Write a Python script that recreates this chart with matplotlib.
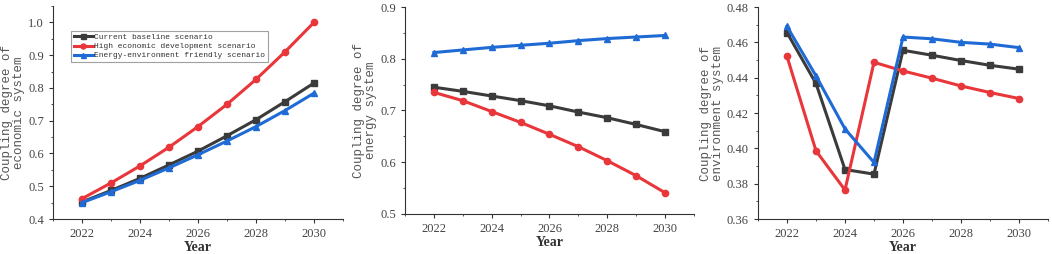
import numpy as np
import matplotlib
matplotlib.use("Agg")
import matplotlib.pyplot as plt
from matplotlib.ticker import MultipleLocator

years = [2022, 2023, 2024, 2025, 2026, 2027, 2028, 2029, 2030]
labels = ["Current baseline scenario",
          "High economic development scenario",
          "Energy-environment friendly scenario"]

# economic system
econ_base = [0.452, 0.487, 0.524, 0.565, 0.607, 0.654, 0.703, 0.758, 0.815]
econ_high = [0.462, 0.510, 0.562, 0.619, 0.682, 0.750, 0.826, 0.910, 1.000]
econ_green = [0.450, 0.483, 0.518, 0.556, 0.596, 0.638, 0.682, 0.731, 0.784]

# energy system
energy_base = [0.745, 0.737, 0.728, 0.719, 0.709, 0.697, 0.686, 0.673, 0.659]
energy_high = [0.735, 0.719, 0.698, 0.677, 0.654, 0.630, 0.603, 0.574, 0.541]
energy_green = [0.812, 0.817, 0.822, 0.826, 0.830, 0.835, 0.839, 0.842, 0.845]

# environment system
env_base = [0.4655, 0.4367, 0.3880, 0.3854, 0.4555, 0.4527, 0.4497, 0.4470, 0.4448]
env_high = [0.4520, 0.3986, 0.3764, 0.4487, 0.4438, 0.4397, 0.4353, 0.4316, 0.4282]
env_green = [0.4690, 0.4410, 0.4110, 0.3920, 0.4630, 0.4620, 0.4600, 0.4590, 0.4570]

colors = ["#3b3b3b", "#e8363b", "#1f6bd6"]
markers = ["s", "o", "^"]

panels = [
    dict(data=[econ_base, econ_high, econ_green], ylim=(0.4, 1.05), step=0.1, minor=0.05,
         fmt="%.1f", ylabel="Coupling degree of\neconomic system",
         rect=[53 / 1052, 1 - 219 / 254, 290 / 1052, 213 / 254]),
    dict(data=[energy_base, energy_high, energy_green], ylim=(0.5, 0.9), step=0.1, minor=0.05,
         fmt="%.1f", ylabel="Coupling degree of\nenergy system",
         rect=[405 / 1052, 1 - 214 / 254, 289 / 1052, 207 / 254]),
    dict(data=[env_base, env_high, env_green], ylim=(0.36, 0.48), step=0.02, minor=0.01,
         fmt="%.2f", ylabel="Coupling degree of\nenvironment system",
         rect=[758 / 1052, 1 - 219 / 254, 290 / 1052, 212 / 254]),
]

fig = plt.figure(figsize=(10.52, 2.54), dpi=100)
tick_color = "#444444"

for i, p in enumerate(panels):
    ax = fig.add_axes(p["rect"])
    for series, c, m, lab in zip(p["data"], colors, markers, labels):
        ax.plot(years, series, color=c, marker=m, lw=2.2, ms=4.5, label=lab)
    ax.set_xlim(2021, 2031)
    ax.set_ylim(*p["ylim"])
    ax.xaxis.set_major_locator(MultipleLocator(2))
    ax.xaxis.set_minor_locator(MultipleLocator(1))
    ax.yaxis.set_major_locator(MultipleLocator(p["step"]))
    ax.yaxis.set_minor_locator(MultipleLocator(p["minor"]))
    ax.yaxis.set_major_formatter(matplotlib.ticker.FormatStrFormatter(p["fmt"]))
    for s in ["top", "right"]:
        ax.spines[s].set_visible(False)
    for s in ["left", "bottom"]:
        ax.spines[s].set_color("#333333")
        ax.spines[s].set_linewidth(0.8)
    ax.tick_params(which="major", direction="out", length=3, width=0.8,
                   colors="#333333", labelcolor=tick_color, labelsize=9)
    ax.tick_params(which="minor", direction="out", length=1.5, width=0.6, colors="#333333")
    for t in ax.get_xticklabels() + ax.get_yticklabels():
        t.set_family("Liberation Serif")
    ax.set_xlabel("Year", fontsize=10, fontweight="bold", family="Liberation Serif",
                  color="#333333", labelpad=1)
    ax.set_ylabel(p["ylabel"], fontsize=9, family="Liberation Mono", color="#555555",
                  labelpad=2, linespacing=1.0)
    if i == 0:
        leg = ax.legend(loc="upper left", bbox_to_anchor=(0.05, 0.9),
                        prop={"family": "Liberation Mono", "size": 5.7},
                        frameon=True, fancybox=False, handlelength=2.4,
                        handletextpad=0.2, borderpad=0.3, labelspacing=0.2,
                        markerscale=0.8)
        leg.get_frame().set_edgecolor("#888888")
        leg.get_frame().set_linewidth(0.8)
        for t in leg.get_texts():
            t.set_color("#333333")

fig.savefig("out.png", dpi=100)
